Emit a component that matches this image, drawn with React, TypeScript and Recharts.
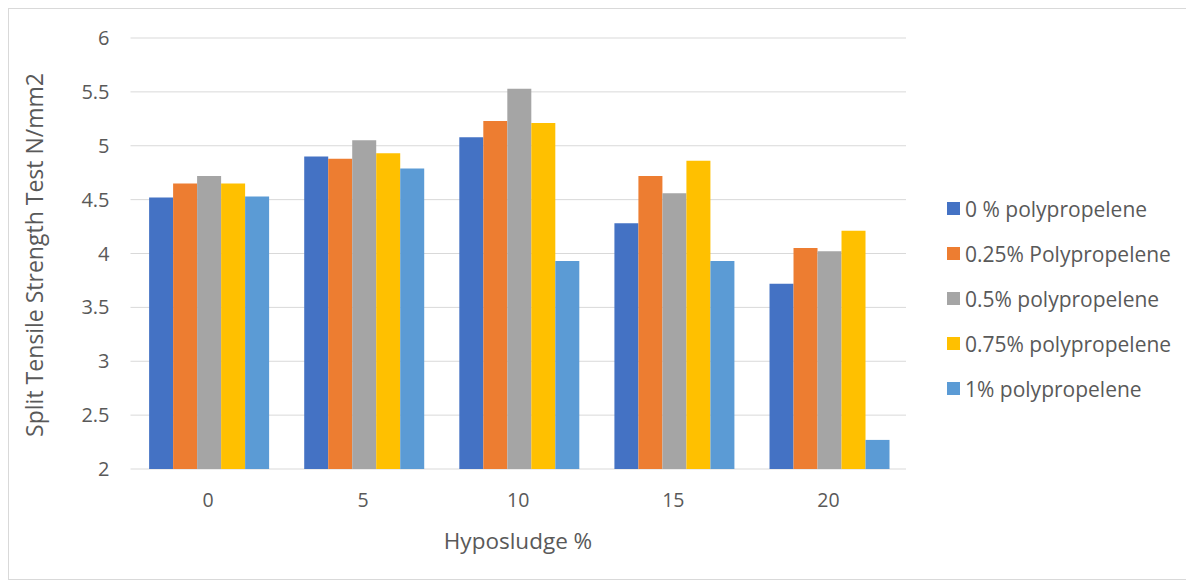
import React from "react";
import { BarChart, Bar, XAxis, YAxis, CartesianGrid } from "recharts";

const categories = ["0", "5", "10", "15", "20"];
const series0 = [4.52, 4.9, 5.08, 4.28, 3.72];
const series025 = [4.65, 4.88, 5.23, 4.72, 4.05];
const series05 = [4.72, 5.05, 5.53, 4.56, 4.02];
const series075 = [4.65, 4.93, 5.21, 4.86, 4.21];
const series1 = [4.53, 4.79, 3.93, 3.93, 2.27];
const yTicks = [2, 2.5, 3, 3.5, 4, 4.5, 5, 5.5, 6];

const seriesNames = [
  "0 % polypropelene",
  "0.25% Polypropelene",
  "0.5% polypropelene",
  "0.75% polypropelene",
  "1% polypropelene",
];
const seriesColors = ["#4472C4", "#ED7D31", "#A5A5A5", "#FFC000", "#5B9BD5"];
const seriesValues = [series0, series025, series05, series075, series1];

const data = categories.map((c, i) => {
  const row: Record<string, string | number> = { cat: c };
  seriesValues.forEach((vals, k) => {
    row["s" + k] = vals[i];
  });
  return row;
});

const FONT = "'Open Sans', sans-serif";
const TEXT = "#595959";

export default function App() {
  return (
    <div
      style={{
        position: "relative",
        width: 1178,
        height: 570,
        border: "1px solid #d9d9d9",
        fontFamily: FONT,
        background: "#fff",
      }}
    >
      <BarChart
        width={1178}
        height={570}
        data={data}
        margin={{ top: 29, right: 281, left: 0, bottom: 0 }}
        barCategoryGap="12%"
        barGap={0}
      >
        <CartesianGrid vertical={false} stroke="#d9d9d9" />
        <XAxis
          dataKey="cat"
          axisLine={false}
          tickLine={false}
          tickSize={0}
          tickMargin={24}
          height={110}
          tick={{ fontSize: 19.5, fill: TEXT, fontFamily: FONT }}
          label={{
            content: () => (
              <text
                x={509}
                y={531}
                textAnchor="middle"
                dominantBaseline="central"
                fontSize={22.5}
                fill={TEXT}
                fontFamily={FONT}
              >
                Hyposludge %
              </text>
            ),
          }}
        />
        <YAxis
          domain={[2, 6]}
          ticks={yTicks}
          axisLine={false}
          tickLine={false}
          tickSize={0}
          tickMargin={21}
          width={121.5}
          tick={{ fontSize: 20, fill: TEXT, fontFamily: FONT }}
          label={{
            content: () => (
              <text
                x={25}
                y={246}
                transform="rotate(-90, 25, 246)"
                textAnchor="middle"
                dominantBaseline="central"
                fontSize={23}
                fill={TEXT}
                fontFamily={FONT}
              >
                Split Tensile Strength Test N/mm2
              </text>
            ),
          }}
        />
        {seriesNames.map((name, k) => (
          <Bar
            key={name}
            dataKey={"s" + k}
            name={name}
            fill={seriesColors[k]}
            isAnimationActive={false}
          />
        ))}
      </BarChart>
      <div style={{ position: "absolute", left: 938, top: 177 }}>
        {seriesNames.map((name, k) => (
          <div
            key={name}
            style={{
              display: "flex",
              alignItems: "center",
              height: 45,
              fontSize: 21,
              color: TEXT,
              whiteSpace: "nowrap",
            }}
          >
            <span
              style={{
                display: "inline-block",
                width: 13,
                height: 13,
                background: seriesColors[k],
                marginRight: 5,
              }}
            />
            {name}
          </div>
        ))}
      </div>
    </div>
  );
}
